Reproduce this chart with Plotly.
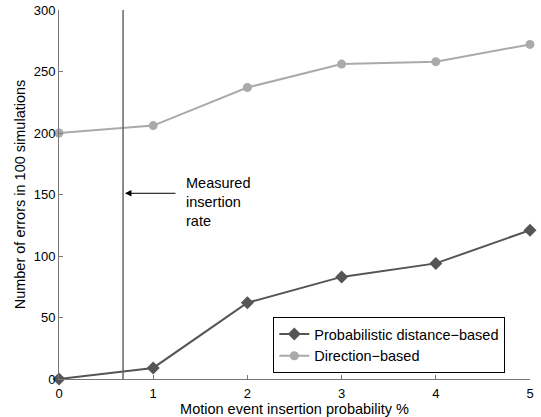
import plotly.graph_objects as go

x_vals = [0, 1, 2, 3, 4, 5]
prob_vals = [0, 9, 62, 83, 94, 121]
dir_vals = [200, 206, 237, 256, 258, 272]
measured_rate = 0.68
x_ticks = [0, 1, 2, 3, 4, 5]
y_ticks = [0, 50, 100, 150, 200, 250, 300]

FONT = "Liberation Sans, Arial, Helvetica, sans-serif"
TXT = 14.5

fig = go.Figure()
fig.add_trace(go.Scatter(
    x=x_vals, y=prob_vals, mode="lines+markers", name="Probabilistic distance\u2212based",
    line=dict(color="#555555", width=2),
    marker=dict(symbol="diamond", size=10, color="#555555"),
    cliponaxis=False))
fig.add_trace(go.Scatter(
    x=x_vals, y=dir_vals, mode="lines+markers", name="Direction\u2212based",
    line=dict(color="#aaaaaa", width=2),
    marker=dict(symbol="circle", size=9, color="#aaaaaa"),
    cliponaxis=False))

fig.add_shape(type="line", x0=measured_rate, x1=measured_rate, y0=0, y1=300,
              xref="x", yref="y", line=dict(color="#666666", width=1.5))

fig.add_annotation(x=measured_rate + 0.02, y=151, xref="x", yref="y",
                   ax=52, ay=0, text="", showarrow=True, arrowhead=2,
                   arrowsize=1.3, arrowwidth=1, arrowcolor="black", standoff=0)
fig.add_annotation(x=1.33, y=144, xref="x", yref="y", xanchor="left", yanchor="middle",
                   text="Measured<br>insertion<br>rate", showarrow=False, align="left",
                   font=dict(family=FONT, size=TXT, color="black"))

fig.update_layout(
    width=541, height=417,
    margin=dict(l=59, r=11, t=10, b=38),
    paper_bgcolor="white", plot_bgcolor="white",
    font=dict(family=FONT, size=13, color="black"),
    showlegend=True,
    legend=dict(x=0.455, y=0.168, xanchor="left", yanchor="top",
                bordercolor="black", borderwidth=1, bgcolor="white",
                font=dict(family=FONT, size=TXT), itemwidth=30,
                tracegroupgap=0),
    xaxis=dict(range=[0, 5], tickvals=x_ticks, ticks="inside", ticklen=4,
               showgrid=False, zeroline=False, showline=True, linecolor="#777777",
               linewidth=1, tickcolor="#777777", automargin=False,
               tickfont=dict(size=13), ticklabelstandoff=2,
               title=dict(text="Motion event insertion probability %", standoff=2,
                          font=dict(size=TXT))),
    yaxis=dict(range=[0, 300], tickvals=y_ticks, ticks="inside", ticklen=4,
               showgrid=False, zeroline=False, showline=True, linecolor="#777777",
               linewidth=1, tickcolor="#777777", automargin=False,
               tickfont=dict(size=13),
               title=dict(text="Number of errors in 100 simulations", standoff=4,
                          font=dict(size=TXT))),
)

fig.write_html("out.html", config={"displayModeBar": False},
               post_script="document.body.style.margin='0';document.body.style.overflow='hidden';")
